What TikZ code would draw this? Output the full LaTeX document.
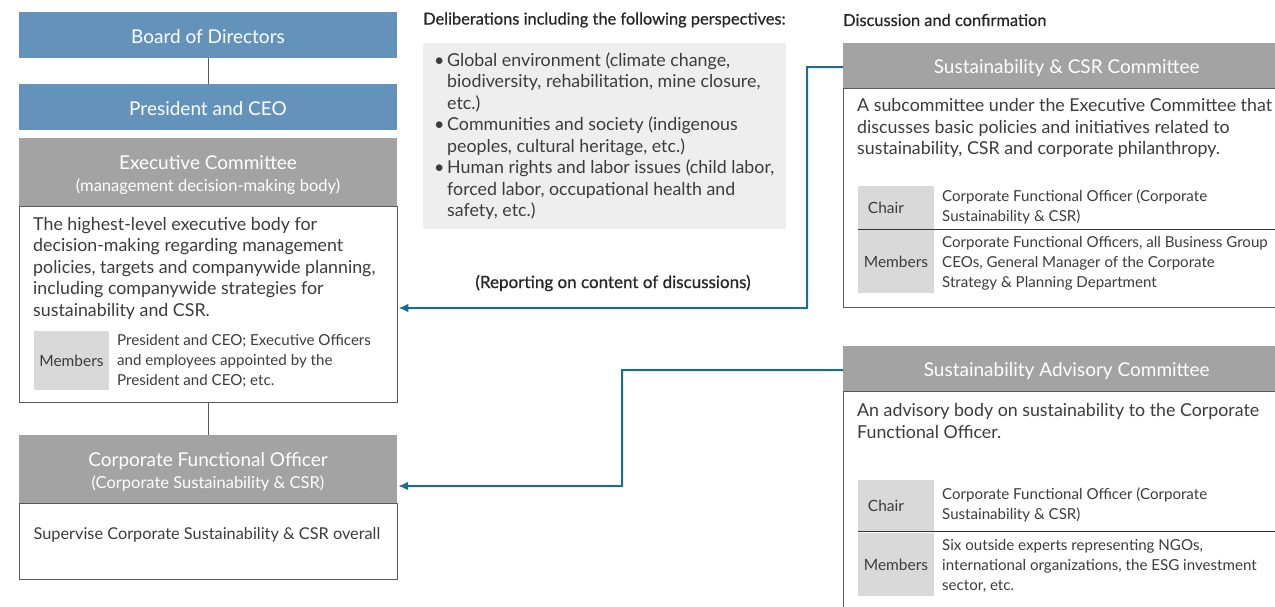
\documentclass[tikz,border=0pt]{standalone}
\usepackage{fontspec}
\setmainfont{Lato}
\newfontfamily\medfont[FakeBold=0.6]{Lato}
\usetikzlibrary{arrows.meta}
\definecolor{hblue}{HTML}{6392BB}
\definecolor{hgray}{HTML}{A3A3A3}
\definecolor{cgray}{HTML}{D9D9D9}
\definecolor{pgray}{HTML}{EEEEEE}
\definecolor{teal}{HTML}{1A6D8F}
\definecolor{bord}{HTML}{5A5A5A}
\definecolor{txt}{HTML}{3C3C3C}
\tikzset{
  bluehead/.style={fill=hblue,draw=none,text=white,minimum width=378pt,minimum height=46pt,inner sep=0pt,font=\fontsize{19}{22}\selectfont},
  grayhead/.style={fill=hgray,draw=none,text=white,inner sep=0pt,font=\fontsize{19}{22}\selectfont},
  bodybox/.style={fill=white,draw=bord,line width=0.9pt,inner sep=0pt},
  celltag/.style={fill=cgray,draw=none,inner sep=0pt,text=txt,font=\fontsize{15.5}{20}\selectfont},
  bodytxt/.style={text=txt,inner sep=0pt,align=left,font=\fontsize{17.8}{21.5}\selectfont},
  smalltxt/.style={text=txt,inner sep=0pt,align=left,font=\fontsize{15.1}{20}\selectfont},
  lbl/.style={text=black!85,inner sep=0pt,font=\medfont\fontsize{16.4}{18}\selectfont},
  conn/.style={draw=bord,line width=0.9pt},
  arr/.style={draw=teal,line width=2pt,-{Latex[length=10pt,width=9pt]}},
  sep/.style={draw=black!80,line width=0.8pt}
}
\newcommand{\downby}[2]{\raisebox{0pt}[\dimexpr\height+#1\relax][\depth]{#2}}
\newcommand{\twoline}[2]{\downby{8pt}{\begin{tabular}{@{}c@{}}#1\\[0pt]{\fontsize{16.5}{18}\selectfont #2}\end{tabular}}}
\begin{document}
\begin{tikzpicture}[x=1pt,y=-1pt]
\useasboundingbox (0,0) rectangle (1275,607);
\clip (0,0) rectangle (1275,607);
% left column
\node[bluehead] (bod) at (208,35) {\downby{3pt}{Board of Directors}};
\node[bluehead] (ceo) at (208,107) {\downby{3pt}{President and CEO}};
\draw[conn] (bod.south) -- (ceo.north);
\node[bodybox,minimum width=378pt,minimum height=196pt] (exb) at (208,304) {};
\node[grayhead,minimum width=378pt,minimum height=68pt] (exh) at (208,172) {\twoline{Executive Committee}{(management decision-making body)}};
\node[bodytxt,anchor=west] (ext) at (33,268) {The highest-level executive body for\\decision-making regarding management\\policies, targets and companywide planning,\\including companywide strategies for\\sustainability and CSR.};
\node[celltag,minimum width=75pt,minimum height=59pt] (exm) at (71.5,360.5) {Members};
\node[smalltxt,anchor=west] (exmt) at (117,361) {President and CEO; Executive Officers\\and employees appointed by the\\President and CEO; etc.};
\node[bodybox,minimum width=378pt,minimum height=76pt] (cfob) at (208,541) {};
\node[grayhead,minimum width=378pt,minimum height=68pt] (cfoh) at (208,469) {\twoline{Corporate Functional Officer}{(Corporate Sustainability \& CSR)}};
\draw[conn] (exb.south) -- (cfoh.north);
\node[text=txt,inner sep=0pt,font=\fontsize{16.3}{19}\selectfont] (cfot) at (207,535) {Supervise Corporate Sustainability \& CSR overall};
% middle
\node[lbl,anchor=west] (dl) at (423,20) {Deliberations including the following perspectives:};
\node[fill=pgray,draw=none,minimum width=363pt,minimum height=186pt,inner sep=0pt] (pan) at (604.5,136) {};
\node[bodytxt,anchor=north west] (pant) at (434,52) {%
\makebox[13pt][l]{\textbullet}Global environment (climate change,\\
\hspace*{13pt}biodiversity, rehabilitation, mine closure,\\
\hspace*{13pt}etc.)\\
\makebox[13pt][l]{\textbullet}Communities and society (indigenous\\
\hspace*{13pt}peoples, cultural heritage, etc.)\\
\makebox[13pt][l]{\textbullet}Human rights and labor issues (child labor,\\
\hspace*{13pt}forced labor, occupational health and\\
\hspace*{13pt}safety, etc.)};
\node[text=black!85,inner sep=0pt,font=\medfont\fontsize{17}{19}\selectfont] (rep) at (613,283) {(Reporting on content of discussions)};
% right top
\node[lbl,anchor=west] (dc) at (843,20) {Discussion and confirmation};
\node[bodybox,minimum width=447pt,minimum height=219pt,anchor=north west] (scb) at (843,88) {};
\node[grayhead,minimum width=447pt,minimum height=45pt,anchor=north west] (sch) at (843,43) {\downby{5pt}{Sustainability \& CSR Committee}};
\node[bodytxt,anchor=west] (sct) at (857,128) {A subcommittee under the Executive Committee that\\discusses basic policies and initiatives related to\\sustainability, CSR and corporate philanthropy.};
\node[celltag,minimum width=76pt,minimum height=43pt] (scc) at (896,207.5) {\hspace*{-20pt}Chair};
\node[celltag,minimum width=76pt,minimum height=63pt] (scm) at (896,261.5) {Members};
\draw[sep] (scc.south west) -- ++(440,0);
\node[smalltxt,anchor=west] (scct) at (942,207) {Corporate Functional Officer (Corporate\\Sustainability \& CSR)};
\node[smalltxt,anchor=west] (scmt) at (942,263) {Corporate Functional Officers, all Business Group\\CEOs, General Manager of the Corporate\\Strategy \& Planning Department};
% right bottom
\node[bodybox,minimum width=447pt,minimum height=240pt,anchor=north west] (sab) at (843,391) {};
\node[grayhead,minimum width=447pt,minimum height=45pt,anchor=north west] (sah) at (843,346) {\downby{5pt}{Sustainability Advisory Committee}};
\node[bodytxt,anchor=west] (sat) at (857,421) {An advisory body on sustainability to the Corporate\\Functional Officer.};
\node[celltag,minimum width=76pt,minimum height=52pt] (sac) at (896,505.5) {\hspace*{-20pt}Chair};
\node[celltag,minimum width=76pt,minimum height=63pt] (sam) at (896,564.5) {Members};
\draw[sep] (sac.south west) -- ++(440,0);
\node[smalltxt,anchor=west] (sact) at (942,505) {Corporate Functional Officer (Corporate\\Sustainability \& CSR)};
\node[smalltxt,anchor=west] (samt) at (942,566) {Six outside experts representing NGOs,\\international organizations, the ESG investment\\sector, etc.};
% arrows
\coordinate (k1) at (807,67);
\coordinate (k2) at (622,370);
\draw[arr] ([yshift=-1.5pt]sch.west) -- (k1) |- ([yshift=-4pt,xshift=1pt]exb.east);
\draw[arr] ([yshift=-1.5pt]sah.west) -- (k2) |- ([yshift=-17pt,xshift=1pt]cfoh.east);
\end{tikzpicture}
\end{document}
